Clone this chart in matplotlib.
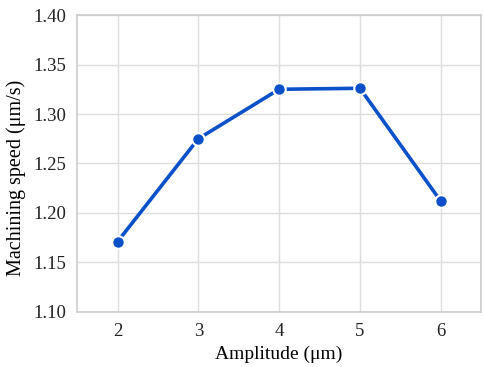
import matplotlib
matplotlib.use("Agg")
import matplotlib.pyplot as plt

# data
amplitude = [2, 3, 4, 5, 6]
speed = [1.171, 1.275, 1.325, 1.326, 1.212]
y_ticks = [1.10, 1.15, 1.20, 1.25, 1.30, 1.35, 1.40]

plt.rcParams['font.family'] = ['Liberation Serif', 'DejaVu Serif']

fig = plt.figure(figsize=(4.85, 3.67), dpi=100)
ax = fig.add_axes([0.159, 0.150, 0.833, 0.809])

ax.plot(amplitude, speed, color='#0a50c8', linewidth=2.6, marker='o',
        markersize=9, markerfacecolor='#0a50c8', markeredgecolor='white',
        markeredgewidth=1.5, zorder=3)

ax.set_xlim(1.5, 6.5)
ax.set_ylim(1.10, 1.40)
ax.set_xticks(amplitude)
ax.set_yticks(y_ticks)
ax.set_yticklabels([f"{v:.2f}" for v in y_ticks])
ax.grid(True, color='#dddddd', linewidth=1)
ax.set_axisbelow(True)
for s in ax.spines.values():
    s.set_color('#cccccc')
    s.set_linewidth(1.2)
ax.tick_params(length=0, labelsize=13.5, pad=8, colors='#222222')

ax.set_xlabel('Amplitude (μm)', fontsize=14, labelpad=4)
ax.set_ylabel('Machining speed (μm/s)', fontsize=14.5, labelpad=5, y=0.453)

fig.savefig('out.png', dpi=100)
